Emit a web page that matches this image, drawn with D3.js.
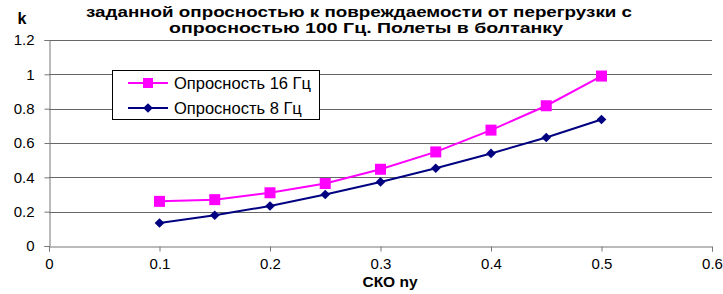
<!DOCTYPE html>
<html>
<head>
<meta charset="utf-8">
<script src="https://cdn.jsdelivr.net/npm/d3@7"></script>
<style>
  body { margin: 0; background: #fff; }
  svg { display: block; font-family: Arial, "Liberation Sans", sans-serif; }
</style>
</head>
<body>
<svg id="chart" width="723" height="294"></svg>
<script>
// Data
const sko = [0.1, 0.15, 0.2, 0.25, 0.3, 0.35, 0.4, 0.45, 0.5];
const k16 = [0.26, 0.27, 0.31, 0.364, 0.447, 0.548, 0.675, 0.817, 0.99];
const k8 = [0.134, 0.179, 0.233, 0.30, 0.373, 0.453, 0.539, 0.632, 0.737];
const xTicks = [0, 0.1, 0.2, 0.3, 0.4, 0.5, 0.6];
const yTicks = [0, 0.2, 0.4, 0.6, 0.8, 1, 1.2];
const titleLines = [
  "заданной опросностью к повреждаемости от перегрузки с",
  "опросностью 100 Гц. Полеты в болтанку"
];
const seriesNames = ["Опросность 16 Гц", "Опросность 8 Гц"];

const svg = d3.select("#chart");
const margin = { left: 49, right: 11, top: 40, bottom: 48 };
const width = 723, height = 294;

const x = d3.scaleLinear().domain([0, 0.6]).range([margin.left, width - margin.right]);
const y = d3.scaleLinear().domain([0, 1.2]).range([height - margin.bottom, margin.top]);

// Gridlines
svg.append("g")
  .selectAll("line")
  .data(yTicks.filter(d => d > 0))
  .join("line")
  .attr("x1", x(0)).attr("x2", x(0.6))
  .attr("y1", d => Math.round(y(d)) + 0.5).attr("y2", d => Math.round(y(d)) + 0.5)
  .attr("stroke", "#666");

// Axes
const xAxis = svg.append("g")
  .attr("transform", `translate(0,${Math.round(y(0)) + 0.5})`)
  .call(d3.axisBottom(x).tickValues(xTicks).tickSize(5).tickPadding(4)
    .tickFormat(d => d3.format("")(d)));
const yAxis = svg.append("g")
  .attr("transform", `translate(${Math.round(x(0)) + 0.5},0)`)
  .call(d3.axisLeft(y).tickValues(yTicks).tickSize(5).tickPadding(10)
    .tickFormat(d => d3.format("")(d)));

[xAxis, yAxis].forEach(g => {
  g.select(".domain").attr("stroke", "#777");
  g.selectAll(".tick line").attr("stroke", "#777");
  g.selectAll(".tick text").attr("fill", "#000").style("font-size", "15px")
    .style("font-family", "Arial, 'Liberation Sans', sans-serif");
});
xAxis.selectAll(".tick text").attr("dy", "0.9em");

// Series
const line = d3.line().x(d => x(d[0])).y(d => y(d[1]));
const pts16 = sko.map((s, i) => [s, k16[i]]);
const pts8 = sko.map((s, i) => [s, k8[i]]);

svg.append("path").datum(pts8).attr("d", line)
  .attr("fill", "none").attr("stroke", "#000080").attr("stroke-width", 2);
svg.append("path").datum(pts16).attr("d", line)
  .attr("fill", "none").attr("stroke", "#ff00ff").attr("stroke-width", 2);

const diamond = d3.symbol().type(d3.symbolDiamond2).size(60);
svg.append("g").selectAll("path").data(pts8).join("path")
  .attr("d", diamond)
  .attr("transform", d => `translate(${x(d[0])},${y(d[1])})`)
  .attr("fill", "#000080");

svg.append("g").selectAll("rect").data(pts16).join("rect")
  .attr("x", d => x(d[0]) - 5.5).attr("y", d => y(d[1]) - 5.5)
  .attr("width", 11).attr("height", 11)
  .attr("fill", "#ff00ff");

// Legend
const legend = svg.append("g");
legend.append("rect")
  .attr("x", 112.5).attr("y", 70.5).attr("width", 207).attr("height", 49)
  .attr("fill", "#fff").attr("stroke", "#000");
const legendY = [83, 108];
legendY.forEach((ly, i) => {
  const color = i === 0 ? "#ff00ff" : "#000080";
  legend.append("line")
    .attr("x1", 128).attr("x2", 168).attr("y1", ly).attr("y2", ly)
    .attr("stroke", color).attr("stroke-width", 2);
  if (i === 0) {
    legend.append("rect").attr("x", 143).attr("y", ly - 5)
      .attr("width", 10).attr("height", 10).attr("fill", color);
  } else {
    legend.append("path").attr("d", diamond)
      .attr("transform", `translate(148,${ly})`).attr("fill", color);
  }
  legend.append("text")
    .attr("x", 174).attr("y", ly + 6)
    .style("font-size", "16.5px")
    .text(seriesNames[i]);
});

// Titles (stretched to the widths seen in the reference)
const titleWidths = [546, 394];
svg.append("g").selectAll("text").data(titleLines).join("text")
  .attr("x", (d, i) => i === 0 ? 359 : 366)
  .attr("y", (d, i) => 17 + i * 16)
  .attr("text-anchor", "middle")
  .attr("textLength", (d, i) => titleWidths[i])
  .attr("lengthAdjust", "spacingAndGlyphs")
  .style("font-size", "15.5px").style("font-weight", "bold")
  .text(d => d);

svg.append("text")
  .attr("x", 22).attr("y", 24)
  .attr("text-anchor", "middle")
  .style("font-size", "16px").style("font-weight", "bold")
  .text("k");

svg.append("text")
  .attr("x", 390).attr("y", 287)
  .attr("text-anchor", "middle")
  .style("font-size", "15.5px").style("font-weight", "bold")
  .text("СКО ny");
</script>
</body>
</html>
